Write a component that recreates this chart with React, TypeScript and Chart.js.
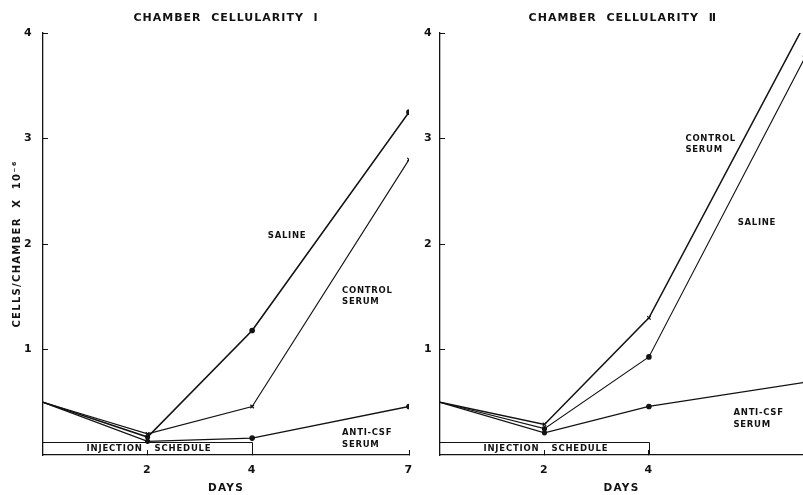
import React, { useEffect, useRef } from 'react';
import { Chart, registerables } from 'chart.js';

Chart.register(...registerables);

// ---- data ----
const days = [0, 2, 4, 7];
const salineI = [0.5, 0.17, 1.18, 3.25];
const controlI = [0.5, 0.2, 0.46, 2.8];
const antiCsfI = [0.5, 0.13, 0.16, 0.46];
const salineII = [0.5, 0.25, 0.93, 3.78];
const controlII = [0.5, 0.29, 1.3, 4.1];
const antiCsfII = [0.5, 0.21, 0.46, 0.69];
const yTickValues = [1, 2, 3, 4];
const xTickValuesI = [2, 4, 7];
const xTickValuesII = [2, 4];
const injectionDays = [0, 2, 4];
const injectionLabels = ['INJECTION', 'SCHEDULE'];
const titleI = 'CHAMBER  CELLULARITY  \u2160';
const titleII = 'CHAMBER  CELLULARITY  \u2161';
const yTitle = 'CELLS/CHAMBER  X  10\u207B\u2076';
const xTitle = 'DAYS';

const INK = '#121212';
const FONT = "'DejaVu Sans', sans-serif";

type Label = { lines: string[]; day: number; value: number };

const labelsI: Label[] = [
  { lines: ['SALINE'], day: 4.3, value: 2.08 },
  { lines: ['CONTROL', 'SERUM'], day: 5.72, value: 1.56 },
  { lines: ['ANTI-CSF', 'SERUM'], day: 5.72, value: 0.21 },
];
const labelsII: Label[] = [
  { lines: ['CONTROL', 'SERUM'], day: 4.7, value: 3.0 },
  { lines: ['SALINE'], day: 5.7, value: 2.2 },
  { lines: ['ANTI-CSF', 'SERUM'], day: 5.62, value: 0.4 },
];

const pts = (vals: number[]) => vals.map((v, i) => ({ x: days[i], y: v }));

const annotPlugin = {
  id: 'annot',
  beforeDraw(chart: any) {
    chart.ctx.letterSpacing = '1.3px';
  },
  afterDraw(chart: any, _args: any, opts: any) {
    const ctx = chart.ctx;
    const xs = chart.scales.x;
    const ys = chart.scales.y;
    ctx.save();
    ctx.fillStyle = INK;
    ctx.strokeStyle = INK;
    // title
    ctx.font = `bold 11px ${FONT}`;
    ctx.letterSpacing = '1px';
    ctx.textAlign = 'center';
    ctx.textBaseline = 'middle';
    const midDay = (days[0] + days[days.length - 1]) / 2;
    ctx.fillText(opts.title, xs.getPixelForValue(midDay), 18);
    // series labels
    ctx.font = `bold 8.5px ${FONT}`;
    ctx.letterSpacing = '0.7px';
    ctx.textAlign = 'left';
    (opts.labels as Label[]).forEach((l) => {
      const x = xs.getPixelForValue(l.day);
      const y = ys.getPixelForValue(l.value);
      l.lines.forEach((t, i) => ctx.fillText(t, x, y + i * 11.5));
    });
    // injection schedule box
    const x0 = xs.getPixelForValue(injectionDays[0]);
    const xm = xs.getPixelForValue(injectionDays[1]);
    const x1 = xs.getPixelForValue(injectionDays[2]);
    const yTop = ys.getPixelForValue(opts.boxValue);
    const yBot = ys.getPixelForValue(0);
    ctx.lineWidth = 1;
    ctx.beginPath();
    ctx.moveTo(x0, Math.round(yTop) + 0.5);
    ctx.lineTo(Math.round(x1) + 0.5, Math.round(yTop) + 0.5);
    ctx.lineTo(Math.round(x1) + 0.5, yBot);
    ctx.stroke();
    ctx.font = `bold 8.5px ${FONT}`;
    ctx.letterSpacing = '0.8px';
    ctx.textBaseline = 'middle';
    const ty = (yTop + yBot) / 2 + 0.5;
    ctx.textAlign = 'right';
    ctx.fillText(injectionLabels[0], xm - 5, ty);
    ctx.textAlign = 'left';
    ctx.fillText(injectionLabels[1], xm + 7, ty);
    ctx.restore();
    ctx.letterSpacing = '0px';
  },
};

function makeConfig(panel: 1 | 2): any {
  const first = panel === 1;
  const saline = first ? salineI : salineII;
  const control = first ? controlI : controlII;
  const anti = first ? antiCsfI : antiCsfII;
  const xTicks = first ? xTickValuesI : xTickValuesII;
  const radius = [0, 2, 2.2, 2.2];
  const ds = (label: string, data: number[], style: string, width: number) => ({
    label,
    data: pts(data),
    borderColor: INK,
    backgroundColor: INK,
    borderWidth: width,
    pointStyle: style,
    pointRadius: style === 'crossRot' ? [0, 2.5, 2.5, 2.5] : radius,
    pointBorderWidth: 1.2,
    pointBorderColor: INK,
    pointBackgroundColor: INK,
    tension: 0,
  });
  return {
    type: 'line',
    data: {
      datasets: [
        ds('Saline', saline, 'circle', first ? 1.6 : 1.1),
        ds('Control serum', control, 'crossRot', first ? 1.1 : 1.5),
        ds('Anti-CSF serum', anti, 'circle', 1.3),
      ],
    },
    plugins: [annotPlugin],
    options: {
      responsive: false,
      animation: false,
      devicePixelRatio: 1,
      layout: {
        autoPadding: false,
        padding: { left: 0, top: 33, right: first ? 11 : 0, bottom: 0 },
      },
      plugins: {
        legend: { display: false },
        tooltip: { enabled: false },
        title: { display: false },
        annot: {
          title: first ? titleI : titleII,
          labels: first ? labelsI : labelsII,
          boxValue: 0.12,
        },
      },
      scales: {
        x: {
          type: 'linear',
          position: 'bottom',
          min: 0,
          max: first ? 7 : 6.95,
          afterBuildTicks: (s: any) => {
            s.ticks = xTicks.map((v) => ({ value: v }));
          },
          afterFit: (s: any) => {
            s.height = 40;
            s.paddingLeft = 0;
            s.paddingRight = 0;
          },
          ticks: {
            autoSkip: false,
            maxRotation: 0,
            padding: 14,
            color: INK,
            font: { family: FONT, size: 11, weight: 'bold' },
            callback: (v: any) => String(v),
          },
          grid: { drawOnChartArea: false, tickLength: -5, color: INK, lineWidth: 1 },
          border: { display: true, color: INK, width: 1.3 },
          title: {
            display: true,
            text: xTitle,
            color: INK,
            font: { family: FONT, size: 10.5, weight: 'bold' },
            padding: { top: 0, bottom: 0 },
          },
        },
        y: {
          type: 'linear',
          position: 'left',
          min: 0,
          max: 4,
          afterBuildTicks: (s: any) => {
            s.ticks = yTickValues.map((v) => ({ value: v }));
          },
          afterFit: (s: any) => {
            s.width = first ? 43 : 20;
            s.paddingTop = 0;
            s.paddingBottom = 0;
          },
          ticks: {
            padding: first ? 15 : 12,
            color: INK,
            font: { family: FONT, size: 11, weight: 'bold' },
            callback: (v: any) => String(v),
          },
          grid: { drawOnChartArea: false, tickLength: -5, color: INK, lineWidth: 1 },
          border: { display: true, color: INK, width: 1.3 },
          title: {
            display: first,
            text: yTitle,
            color: INK,
            font: { family: FONT, size: 10, weight: 'bold' },
            padding: { top: 11, bottom: 0 },
          },
        },
      },
    },
  };
}

function Panel({ panel, left, width }: { panel: 1 | 2; left: number; width: number }) {
  const ref = useRef<HTMLCanvasElement | null>(null);
  useEffect(() => {
    if (!ref.current) return;
    const chart = new Chart(ref.current, makeConfig(panel));
    return () => chart.destroy();
  }, [panel]);
  return (
    <div style={{ position: 'absolute', left, top: 0, width, height: 495 }}>
      <canvas ref={ref} width={width} height={495} style={{ display: 'block', width, height: 495 }} />
    </div>
  );
}

export default function App() {
  return (
    <div
      style={{
        position: 'fixed',
        left: 0,
        top: 0,
        width: 803,
        height: 495,
        overflow: 'hidden',
        background: '#ffffff',
      }}
    >
      <Panel panel={1} left={0} width={420} />
      <Panel panel={2} left={420} width={383} />
    </div>
  );
}
